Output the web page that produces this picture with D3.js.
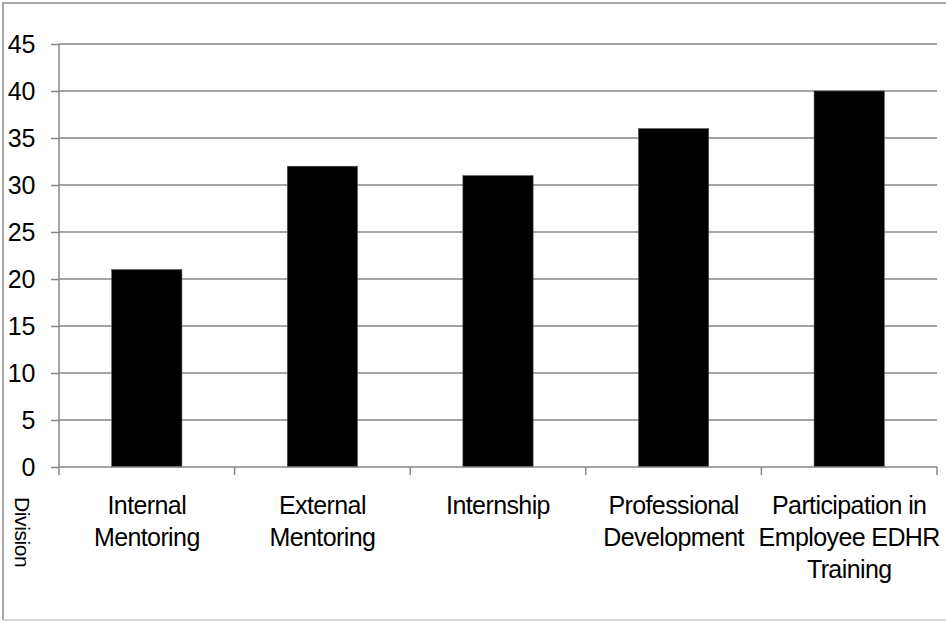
<!DOCTYPE html>
<html>
<head>
<meta charset="utf-8">
<script src="https://cdn.jsdelivr.net/npm/d3@7"></script>
<style>
  body { margin: 0; background: #fff; }
  svg { display: block; font-family: "Liberation Sans", Arial, sans-serif; }
</style>
</head>
<body>
<div id="chart"></div>
<script>
// Data
var categories = [
  ["Internal", "Mentoring"],
  ["External", "Mentoring"],
  ["Internship"],
  ["Professional", "Development"],
  ["Participation in", "Employee EDHR", "Training"]
];
var values = [21, 32, 31, 36, 40];
var yTicks = [0, 5, 10, 15, 20, 25, 30, 35, 40, 45];
var axisTitle = "Division";

// Setup
var width = 946, height = 622;
var margin = { top: 44, right: 9, bottom: 155, left: 59 };
var plotW = width - margin.left - margin.right,
    plotH = height - margin.top - margin.bottom;
var gridColor = "#868686";

var svg = d3.select("#chart")
  .append("svg")
  .attr("width", width)
  .attr("height", height);

// chart frame (right side runs off the picture)
svg.append("path")
  .attr("d", "M3,620 V3 H946")
  .attr("fill", "none")
  .attr("stroke", "#8a8a8a")
  .attr("stroke-width", 1.5);
svg.append("line")
  .attr("x1", 3).attr("x2", 946)
  .attr("y1", 620).attr("y2", 620)
  .attr("stroke", "#c8c8c8")
  .attr("stroke-width", 1.5);

var g = svg.append("g")
  .attr("transform", "translate(" + margin.left + "," + margin.top + ")");

var x = d3.scaleBand()
  .domain(d3.range(values.length))
  .range([0, plotW])
  .paddingInner(0.6)
  .paddingOuter(0.3);

var y = d3.scaleLinear()
  .domain([0, 45])
  .range([plotH, 0]);

// gridlines
g.append("g")
  .selectAll("line")
  .data(yTicks.filter(d => d > 0))
  .join("line")
  .attr("x1", 0).attr("x2", plotW)
  .attr("y1", d => y(d)).attr("y2", d => y(d))
  .attr("stroke", gridColor)
  .attr("stroke-width", 1.5);

// y axis
var yAxis = g.append("g")
  .call(d3.axisLeft(y).tickValues(yTicks).tickSize(8).tickPadding(16));
yAxis.select(".domain").attr("stroke", gridColor).attr("stroke-width", 1.5)
  .attr("d", "M0," + plotH + "V0");
yAxis.selectAll(".tick line").attr("stroke", gridColor).attr("stroke-width", 1.5);
yAxis.selectAll(".tick text")
  .attr("fill", "#000")
  .attr("font-size", 25)
  .attr("letter-spacing", -0.3)
  .attr("font-family", "Liberation Sans, Arial, sans-serif");

// bars
g.append("g")
  .selectAll("rect")
  .data(values)
  .join("rect")
  .attr("x", (d, i) => x(i))
  .attr("y", d => y(d))
  .attr("width", x.bandwidth())
  .attr("height", d => plotH - y(d))
  .attr("fill", "#000")
  .attr("stroke", "#555")
  .attr("stroke-width", 0.6);

// x axis line and category separators
var step = x.step();
var xAxis = g.append("g").attr("transform", "translate(0," + plotH + ")");
xAxis.append("line")
  .attr("x1", 0).attr("x2", plotW)
  .attr("stroke", gridColor).attr("stroke-width", 1.5);
xAxis.selectAll("line.sep")
  .data(d3.range(values.length + 1))
  .join("line")
  .attr("class", "sep")
  .attr("x1", i => i * step).attr("x2", i => i * step)
  .attr("y1", 0).attr("y2", 8)
  .attr("stroke", gridColor).attr("stroke-width", 1.5);

// category labels
var labels = xAxis.selectAll("text.cat")
  .data(categories)
  .join("text")
  .attr("class", "cat")
  .attr("text-anchor", "middle")
  .attr("font-size", 25)
  .attr("letter-spacing", -0.6)
  .attr("fill", "#000")
  .attr("transform", (d, i) => "translate(" + (x(i) + x.bandwidth() / 2) + ",47)");
labels.selectAll("tspan")
  .data(d => d)
  .join("tspan")
  .attr("x", 0)
  .attr("dy", (d, i) => i === 0 ? 0 : 32)
  .text(d => d);

// rotated axis title
svg.append("text")
  .attr("transform", "translate(15,497) rotate(90)")
  .attr("font-size", 21)
  .attr("letter-spacing", -0.4)
  .attr("fill", "#000")
  .text(axisTitle);
</script>
</body>
</html>
